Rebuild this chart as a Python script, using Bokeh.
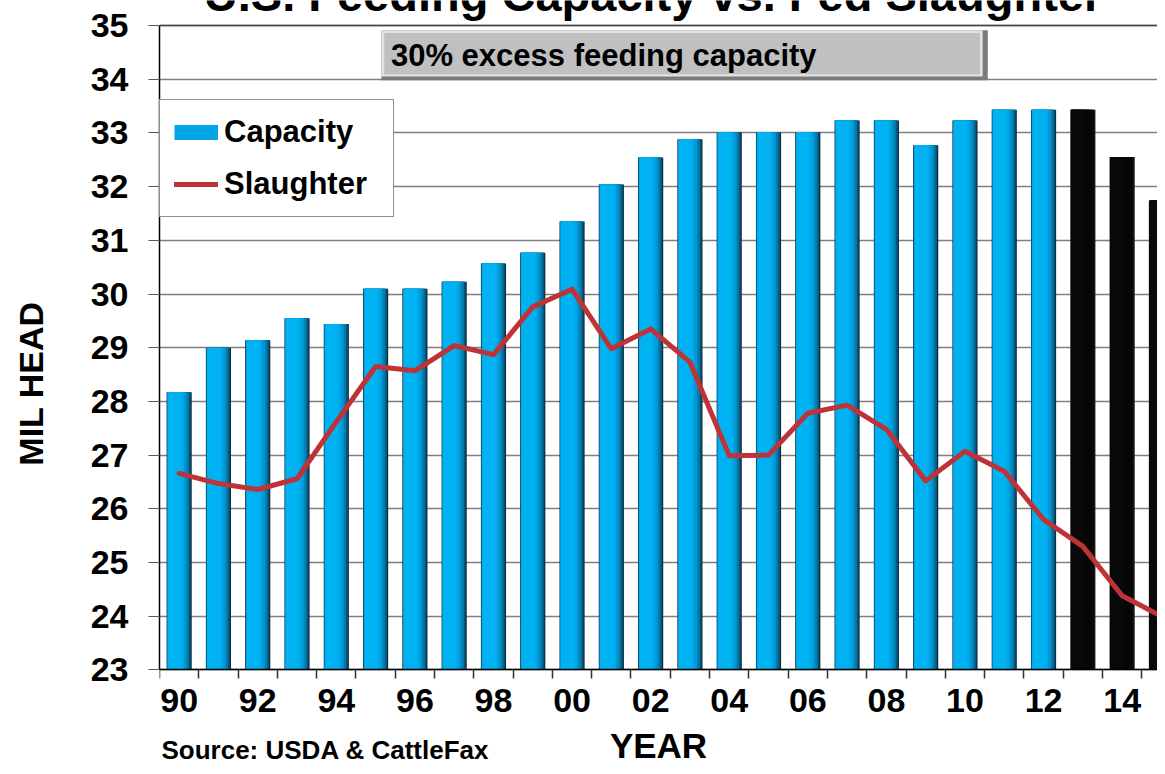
from bokeh.plotting import figure
from bokeh.models import (ColumnDataSource, Range1d, FixedTicker, Legend, LegendItem,
                          BoxAnnotation, Label, Span)
from bokeh.transform import dodge
from bokeh.embed import file_html
from bokeh.resources import INLINE

# ---------------- data ----------------
years = list(range(1990, 2016))
capacity = [28.17, 29.00, 29.14, 29.55, 29.44, 30.10, 30.10, 30.23, 30.57, 30.77,
            31.35, 32.04, 32.54, 32.88, 33.01, 33.01, 33.01, 33.23, 33.23, 32.77,
            33.23, 33.43, 33.43, 33.43, 32.55, 31.74]
slaughter = [26.66, 26.47, 26.36, 26.56, 27.62, 28.65, 28.57, 29.04, 28.87, 29.76,
             30.09, 28.98, 29.35, 28.73, 26.99, 27.00, 27.78, 27.93, 27.48, 26.52,
             27.07, 26.70, 25.80, 25.30, 24.38, 24.00]
projected_years = [2013, 2014, 2015]
x_tick_years = list(range(1990, 2016, 2))
x_tick_labels = ["90", "92", "94", "96", "98", "00", "02", "04", "06", "08", "10", "12", "14"]
y_ticks = list(range(23, 36))

FONT = "Liberation Sans, Arial, sans-serif"

# bar shading layers: (left offset, right offset, blue colour, black colour)
layers = [
    (-0.32, 0.32, "#0c2f42", "#1c1c1c"),
    (-0.30, 0.29, "#06557a", "#0c0c0c"),
    (-0.30, 0.25, "#0479aa", "#080808"),
    (-0.30, 0.19, "#0296d2", "#060606"),
    (-0.29, 0.12, "#00a9ea", "#070707"),
    (-0.28, 0.05, "#00b2f2", "#090909"),
]

data = dict(year=years, capacity=capacity, slaughter=slaughter)
for i, (lo, hi, cb, ck) in enumerate(layers):
    data[f"c{i}"] = [ck if y in projected_years else cb for y in years]
src = ColumnDataSource(data)

W, H = 1157, 766
x0, x1 = 1989.5, 2014.9
y_lo, y_hi = 23, 35                      # value axis extent
PX_PER_UNIT = 53.7
y_view_top = y_hi + 25 / PX_PER_UNIT      # frame covers whole canvas height
y_view_bot = y_lo - (H - 25 - (y_hi - y_lo) * PX_PER_UNIT) / PX_PER_UNIT

p = figure(width=W, height=H, x_range=Range1d(x0, x1), y_range=Range1d(y_view_bot, y_view_top),
           output_backend="svg", toolbar_location=None,
           min_border_left=159, min_border_right=0, min_border_top=0, min_border_bottom=0)
p.outline_line_color = None
p.background_fill_color = "white"
p.border_fill_color = "white"

# grid
p.xgrid.grid_line_color = None
p.ygrid.grid_line_color = "#7f7f7f"
p.ygrid.grid_line_width = 1.5
p.ygrid.ticker = FixedTicker(ticks=y_ticks)

# bars
for i, (lo, hi, cb, ck) in enumerate(layers):
    p.vbar(x=dodge("year", (lo + hi) / 2, range=p.x_range), width=hi - lo,
           top="capacity", bottom=y_lo, source=src, fill_color=f"c{i}",
           line_color=None)

# slaughter line
line_r = p.line(x="year", y="slaughter", source=src, line_color="#BF3336",
                line_width=5, line_join="round", line_cap="round")

# hidden renderer that only supplies the capacity legend patch
cap_leg = p.line(x="year", y="capacity", source=src, line_color="#02a6e6",
                 line_width=15, visible=False)

# top border line
p.add_layout(Span(location=y_hi, dimension="width", line_color="#444444", line_width=1.5))

# y axis
yax = p.yaxis[0]
yax.bounds = (y_lo, y_hi)
yax.ticker = FixedTicker(ticks=y_ticks)
yax.axis_line_color = "black"
yax.axis_line_width = 1.5
yax.major_tick_out = 11
yax.major_tick_in = 0
yax.major_tick_line_color = "#555555"
yax.minor_tick_line_color = None
yax.major_label_standoff = 20
yax.major_label_text_font = FONT
yax.major_label_text_font_style = "bold"
yax.major_label_text_font_size = "34px"
yax.major_label_text_color = "black"
yax.axis_label = "MIL HEAD"
yax.axis_label_text_font = FONT
yax.axis_label_text_font_style = "bold"
yax.axis_label_text_font_size = "34px"
yax.axis_label_text_color = "black"
yax.axis_label_standoff = 38

# x axis, drawn at the bottom of the value range
xax = p.xaxis[0]
xax.fixed_location = y_lo
xax.ticker = FixedTicker(ticks=x_tick_years, minor_ticks=[y - 0.5 for y in years] + [years[-1] + 0.5])
xax.major_label_overrides = {y: t for y, t in zip(x_tick_years, x_tick_labels)}
xax.axis_line_color = "black"
xax.axis_line_width = 1.5
xax.major_tick_line_color = None
xax.major_tick_out = 0
xax.major_tick_in = 0
xax.minor_tick_line_color = "#333333"
xax.minor_tick_line_width = 1.5
xax.minor_tick_out = 9
xax.minor_tick_in = 0
xax.major_label_standoff = 10
xax.major_label_text_font = FONT
xax.major_label_text_font_style = "bold"
xax.major_label_text_font_size = "34px"
xax.major_label_text_color = "black"
xax.axis_label = "YEAR"
xax.axis_label_text_font = FONT
xax.axis_label_text_font_style = "bold"
xax.axis_label_text_font_size = "35px"
xax.axis_label_text_color = "black"
xax.axis_label_standoff = 11

# gray callout box with bevel
bx_l, bx_r, bx_t, bx_b = 1995.15, 2010.58, 34.91, 33.98
p.add_layout(BoxAnnotation(left=bx_l, right=bx_r, top=bx_t, bottom=bx_b,
                           fill_color="#7a7a7a", fill_alpha=1, line_color=None))
p.add_layout(BoxAnnotation(left=bx_l, right=bx_r - 0.13, top=bx_t, bottom=bx_b + 0.07,
                           fill_color="#e2e2e2", fill_alpha=1, line_color=None))
p.add_layout(BoxAnnotation(left=bx_l + 0.07, right=bx_r - 0.2, top=bx_t - 0.05, bottom=bx_b + 0.11,
                           fill_color="#c0c0c0", fill_alpha=1, line_color=None))
p.add_layout(Label(x=1995.39, y=34.45, text="30% excess feeding capacity",
                   text_font=FONT, text_font_style="bold", text_font_size="31px",
                   text_color="black", text_baseline="middle", text_align="left"))

# title (cut off at the top of the picture, as in the original)
p.add_layout(Label(x=2002.06, y=35.577, text="U.S. Feeding Capacity vs. Fed Slaughter",
                   text_font=FONT, text_font_style="bold", text_font_size="47px",
                   text_color="black", text_baseline="middle", text_align="center"))

# source note
p.add_layout(Label(x=1989.55, y=21.5, text="Source: USDA & CattleFax",
                   text_font=FONT, text_font_style="bold", text_font_size="26px",
                   text_color="black", text_baseline="middle", text_align="left"))

# legend (location measured from the frame's bottom-left corner)
legend = Legend(items=[LegendItem(label="Capacity", renderers=[cap_leg]),
                       LegendItem(label="Slaughter", renderers=[line_r])],
                location=(0, 549), margin=0, padding=14, spacing=16,
                glyph_width=44, glyph_height=30, label_standoff=6, label_width=155,
                label_text_font=FONT, label_text_font_style="bold",
                label_text_font_size="31px", label_text_color="black",
                border_line_color="#222222", border_line_width=1.5,
                background_fill_color="white", background_fill_alpha=1.0)
p.add_layout(legend)

open("out.html", "w").write(file_html(p, INLINE))
